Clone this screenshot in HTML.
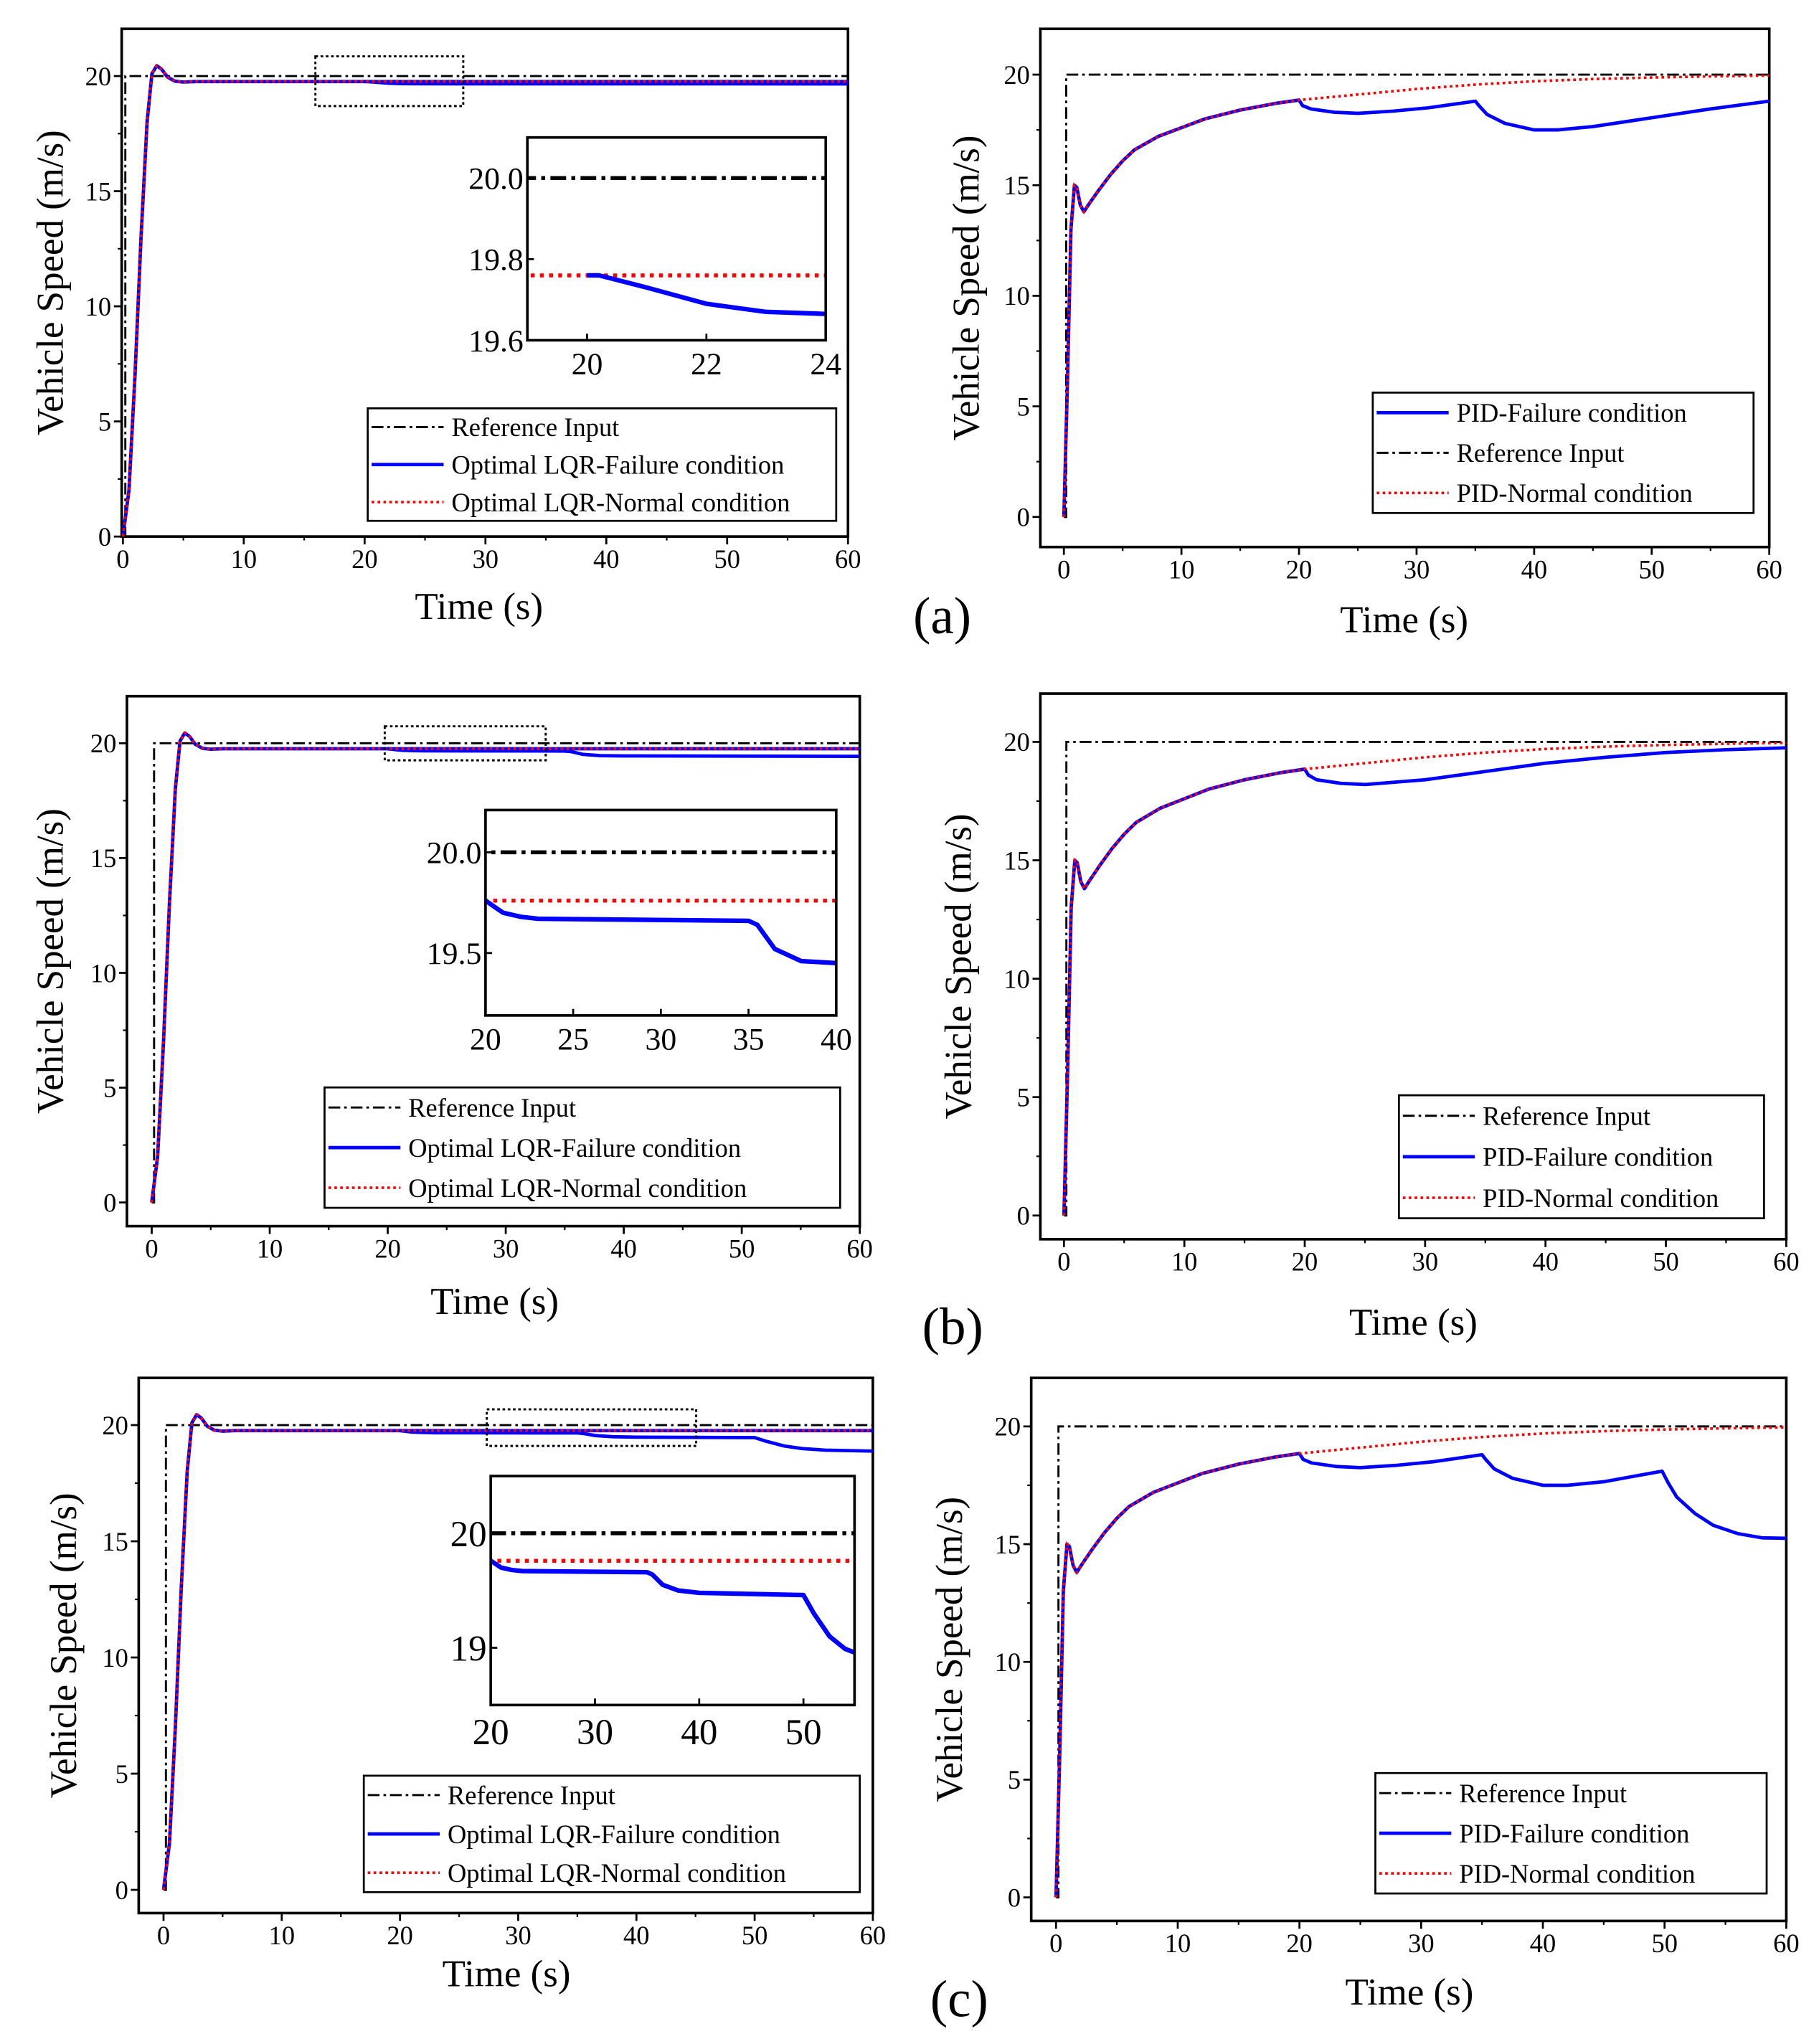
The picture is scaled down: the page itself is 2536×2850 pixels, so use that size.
<!DOCTYPE html>
<html><head><meta charset="utf-8"><style>
html,body{margin:0;padding:0;background:#fff;width:2536px;height:2850px;overflow:hidden}
svg{display:block;position:absolute;left:0;top:0}
text{font-family:"Liberation Serif","Times New Roman",serif;fill:#000}
</style></head><body>
<svg id="fig" xmlns="http://www.w3.org/2000/svg" width="2536" height="2850" viewBox="0 0 1390 1562"></svg>
<script>
// ---- data ----
const refT=[0,0.2,0.2,60];
const refV=[0,0,20,20];
const lqrBaseT=[0,0.5,1,1.5,2,2.4,2.8,3.2,3.7,4.3,5,6,10,20];
const lqrBaseV=[0,2,7,13,18,20.1,20.45,20.3,19.95,19.78,19.74,19.76,19.76,19.76];
const lqrNormT=[60];
const lqrNormV=[19.76];
const lqrFailAT=[20.2,21,22,23,24,60];
const lqrFailAV=[19.76,19.73,19.69,19.67,19.665,19.66];
const lqrFailBT=[21,22,23,35,35.5,36.5,38,40,60];
const lqrFailBV=[19.7,19.68,19.67,19.66,19.64,19.52,19.46,19.45,19.43];
const lqrFailCT=[21,22,23,35,35.5,36.5,38,40,50,51,52.5,54,56,60];
const lqrFailCV=[19.7,19.68,19.67,19.66,19.64,19.55,19.5,19.48,19.46,19.3,19.1,18.99,18.92,18.88];
const pidBaseT=[0,0.3,0.6,0.9,1.1,1.4,1.7,2.2,3,4,5,6,8,10,12,15,18,20];
const pidBaseV=[0,6,13,15,14.9,14.1,13.8,14.2,14.8,15.5,16.1,16.6,17.2,17.6,18.0,18.4,18.7,18.85];
const pidNormT=[25,30,35,40,45,50,55,60];
const pidNormV=[19.1,19.35,19.55,19.7,19.8,19.87,19.92,19.96];
const pidFailAT=[20.3,21,23,25,28,31,35,35.3,36,37.5,40,42,45,50,55,60];
const pidFailAV=[18.6,18.45,18.3,18.25,18.35,18.5,18.8,18.6,18.2,17.8,17.5,17.5,17.65,18.05,18.45,18.8];
const pidFailBT=[20.3,21,23,25,30,35,40,45,50,55,60];
const pidFailBV=[18.6,18.4,18.25,18.2,18.4,18.75,19.1,19.35,19.55,19.67,19.75];
const pidFailCT=[20.3,21,23,25,28,31,35,35.3,36,37.5,40,42,45,49.8,50.3,51,52.5,54,56,58,60];
const pidFailCV=[18.6,18.45,18.3,18.25,18.35,18.5,18.8,18.6,18.2,17.8,17.5,17.5,17.65,18.1,17.6,17.0,16.3,15.8,15.45,15.27,15.25];
const mainXTicks=[0,10,20,30,40,50,60];
const mainYTicks=[0,5,10,15,20];

const NS="http://www.w3.org/2000/svg";
const fig=document.getElementById('fig');
function el(tag,attrs,parent){const e=document.createElementNS(NS,tag);for(const k in attrs)e.setAttribute(k,attrs[k]);(parent||fig).appendChild(e);return e;}
function txt(s,x,y,size,anchor,parent,extra){const t=el('text',Object.assign({x:x,y:y,'font-size':size,'text-anchor':anchor||'middle','font-family':'"Liberation Serif","Times New Roman",serif'},extra||{}),parent);t.textContent=s;return t;}
const STY={
 ref:{stroke:'#000','stroke-width':1.6,'stroke-dasharray':'9 3 2 3',fill:'none'},
 fail:{stroke:'#0000ff','stroke-width':2.6,fill:'none','stroke-linejoin':'round'},
 norm:{stroke:'#ff0000','stroke-width':2,'stroke-dasharray':'2 2.5',fill:'none'}
};
let clipId=0;
function axes(c){
 c.sx=t=>c.x0+(t-c.xmin)*(c.x1-c.x0)/(c.xmax-c.xmin);
 c.sy=v=>c.y1-(v-c.ymin)*(c.y1-c.y0)/(c.ymax-c.ymin);
 const id='clip'+(clipId++);
 const cp=el('clipPath',{id:id});
 el('rect',{x:c.x0,y:c.y0,width:c.x1-c.x0,height:c.y1-c.y0},cp);
 c.clip='url(#'+id+')';
 return c;
}
function series(c,T,V,sty,name){
 const p=T.map((t,i)=>c.sx(t).toFixed(2)+','+c.sy(V[i]).toFixed(2)).join(' ');
 const pl=el('polyline',Object.assign({points:p,'clip-path':c.clip},sty));
 
 
}
function frame(c,xt,yt,xminor,yminor,fs,name,labelDy){
 const g=el('g',{});
 
 
 el('rect',{x:c.x0,y:c.y0,width:c.x1-c.x0,height:c.y1-c.y0,fill:'none',stroke:'#000','stroke-width':2},g);
 xt.forEach(t=>{const x=c.sx(t);el('line',{x1:x,x2:x,y1:c.y1,y2:c.y1+6,stroke:'#000','stroke-width':1.5},g);txt(String(t),x,c.y1+fs+labelDy,fs,'middle',g);});
 yt.forEach(v=>{const y=c.sy(v);el('line',{x1:c.x0,x2:c.x0-6,y1:y,y2:y,stroke:'#000','stroke-width':1.5},g);txt(String(v),c.x0-8,y+fs*0.35,fs,'end',g);});
 (xminor||[]).forEach(t=>{const x=c.sx(t);el('line',{x1:x,x2:x,y1:c.y1,y2:c.y1+3,stroke:'#000','stroke-width':1.2},g);});
 (yminor||[]).forEach(v=>{const y=c.sy(v);el('line',{x1:c.x0,x2:c.x0-3,y1:y,y2:y,stroke:'#000','stroke-width':1.2},g);});
}
function legend(x0,y0,x1,y1,entries,name){
 const g=el('g',{});
 
 
 el('rect',{x:x0,y:y0,width:x1-x0,height:y1-y0,fill:'#fff',stroke:'#000','stroke-width':1.5},g);
 const h=(y1-y0)/entries.length;
 entries.forEach((e,i)=>{const y=y0+h*(i+0.5);
  el('line',Object.assign({x1:x0+3,x2:x0+58,y1:y,y2:y},STY[e[0]]),g);
  txt(e[1],x0+64,y+7,20,'start',g);});
}
const minX=[5,15,25,35,45,55], minY=[2.5,7.5,12.5,17.5];
function mainPanel(c,name,tx,ty,yx){
 axes(c);
 frame(c,mainXTicks,mainYTicks,minX,minY,20,name+'-axes',4);
 txt('Time (s)',tx,ty,29,'middle');
 txt('Vehicle Speed (m/s)',0,0,29,'middle',null,{transform:'translate('+yx+','+((c.y0+c.y1)/2)+') rotate(-90)'});
 return c;
}
function lqr(c,failT,failV,name){
 series(c,refT,refV,STY.ref,name+'-reference');
 series(c,lqrBaseT.concat(lqrNormT),lqrBaseV.concat(lqrNormV),STY.fail,name+'-lqr-failure-base');
 series(c,lqrBaseT.slice(-1).concat(failT),lqrBaseV.slice(-1).concat(failV),STY.fail,name+'-lqr-failure');
 series(c,lqrBaseT.concat(lqrNormT),lqrBaseV.concat(lqrNormV),STY.norm,name+'-lqr-normal');
}
function pid(c,failT,failV,name){
 series(c,refT,refV,STY.ref,name+'-reference');
 series(c,pidBaseT.concat(failT),pidBaseV.concat(failV),STY.fail,name+'-pid-failure');
 series(c,pidBaseT.concat(pidNormT),pidBaseV.concat(pidNormV),STY.norm,name+'-pid-normal');
}
function zoomBox(x0,y0,x1,y1,name){const r=el('rect',{x:x0,y:y0,width:x1-x0,height:y1-y0,fill:'none',stroke:'#000','stroke-width':1.6,'stroke-dasharray':'2 2'});}
function inset(c,xt,yt,ylabels,failT,failV,name,fs){
 axes(c);
 el('rect',{x:c.x0,y:c.y0,width:c.x1-c.x0,height:c.y1-c.y0,fill:'#fff'});
 const r2={ref:Object.assign({},STY.ref,{'stroke-width':3,'stroke-dasharray':'12 4 3 4'}),fail:Object.assign({},STY.fail,{'stroke-width':3.5}),norm:Object.assign({},STY.norm,{'stroke-width':3,'stroke-dasharray':'3 4'})};
 series(c,refT,refV,r2.ref,name+'-reference');
 series(c,lqrBaseT.concat(lqrNormT),lqrBaseV.concat(lqrNormV),r2.norm,name+'-normal');
 series(c,lqrBaseT.slice(-1).concat(failT),lqrBaseV.slice(-1).concat(failV),r2.fail,name+'-failure');
 const g=el('g',{});
 
 
 el('rect',{x:c.x0,y:c.y0,width:c.x1-c.x0,height:c.y1-c.y0,fill:'none',stroke:'#000','stroke-width':2},g);
 xt.forEach(t=>{const x=c.sx(t);el('line',{x1:x,x2:x,y1:c.y1,y2:c.y1-5,stroke:'#000','stroke-width':1.5},g);txt(String(t),x,c.y1+fs+2,fs,'middle',g);});
 yt.forEach((v,i)=>{const y=c.sy(v);el('line',{x1:c.x0,x2:c.x0+5,y1:y,y2:y,stroke:'#000','stroke-width':1.5},g);txt(ylabels[i],c.x0-3,y+fs*0.35,fs,'end',g);});
}

// (a) left
let A=mainPanel({x0:93,x1:648,y0:22,y1:410,xmin:-0.1,xmax:60,ymin:0,ymax:22.05},'a-left',366,473,48);
lqr(A,lqrFailAT,lqrFailAV,'a-left');
zoomBox(241,43,354,81,'a-left-zoom-box');
inset({x0:403,x1:631,y0:105,y1:260,xmin:19,xmax:24,ymin:19.6,ymax:20.1},[20,22,24],[19.6,19.8,20.0],['19.6','19.8','20.0'],lqrFailAT,lqrFailAV,'a-inset',24);
legend(281,312,639,398,[['ref','Reference Input'],['fail','Optimal LQR-Failure condition'],['norm','Optimal LQR-Normal condition']],'a-left-legend');
// (a) right
let B=mainPanel({x0:795,x1:1352,y0:22,y1:418,xmin:-2,xmax:60,ymin:-1.36,ymax:22.07},'a-right',1073,483,748);
pid(B,pidFailAT,pidFailAV,'a-right');
legend(1049,300,1340,392,[['fail','PID-Failure condition'],['ref','Reference Input'],['norm','PID-Normal condition']],'a-right-legend');
txt('(a)',720,484,40);

// (b) left
let C=mainPanel({x0:97,x1:657,y0:532,y1:937,xmin:-2.1,xmax:60,ymin:-1.03,ymax:22.05},'b-left',378,1004,48);
lqr(C,lqrFailBT,lqrFailBV,'b-left');
zoomBox(294,555,417,581,'b-left-zoom-box');
inset({x0:371,x1:639,y0:619,y1:776,xmin:20,xmax:40,ymin:19.19,ymax:20.21},[20,25,30,35,40],[19.5,20.0],['19.5','20.0'],lqrFailBT,lqrFailBV,'b-inset',24);
legend(248,831,642,923,[['ref','Reference Input'],['fail','Optimal LQR-Failure condition'],['norm','Optimal LQR-Normal condition']],'b-left-legend');
// (b) right
let D=mainPanel({x0:795,x1:1365,y0:530,y1:947,xmin:-1.96,xmax:60,ymin:-1,ymax:22.04},'b-right',1080,1020,742);
pid(D,pidFailBT,pidFailBV,'b-right');
legend(1069,837,1348,931,[['ref','Reference Input'],['fail','PID-Failure condition'],['norm','PID-Normal condition']],'b-right-legend');
txt('(b)',728,1027,40);

// (c) left
let E=mainPanel({x0:106,x1:667,y0:1053,y1:1462,xmin:-2.1,xmax:60,ymin:-1,ymax:22.03},'c-left',387,1518,58);
lqr(E,lqrFailCT,lqrFailCV,'c-left');
zoomBox(372,1077,532,1105,'c-left-zoom-box');
inset({x0:375,x1:653,y0:1128,y1:1303,xmin:20,xmax:54.9,ymin:18.5,ymax:20.5},[20,30,40,50],[19,20],['19','20'],lqrFailCT,lqrFailCV,'c-inset',28);
legend(278,1357,657,1446,[['ref','Reference Input'],['fail','Optimal LQR-Failure condition'],['norm','Optimal LQR-Normal condition']],'c-left-legend');
// (c) right
let F=mainPanel({x0:788,x1:1365,y0:1053,y1:1468,xmin:-2.04,xmax:60,ymin:-1,ymax:22.06},'c-right',1077,1532,735);
pid(F,pidFailCT,pidFailCV,'c-right');
legend(1051,1355,1350,1447,[['ref','Reference Input'],['fail','PID-Failure condition'],['norm','PID-Normal condition']],'c-right-legend');
txt('(c)',733,1541,40);
</script>
</body></html>
